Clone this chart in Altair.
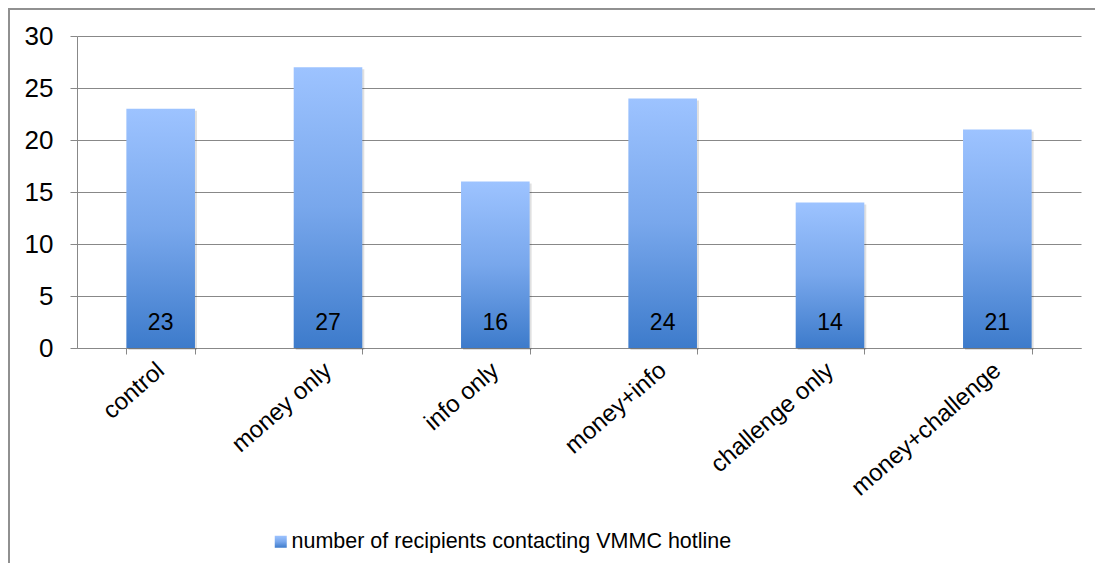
import altair as alt
import pandas as pd

categories = ["control", "money only", "info only", "money+info", "challenge only", "money+challenge"]
values = [23, 27, 16, 24, 14, 21]
series_name = "number of recipients contacting VMMC hotline"
y_ticks = [0, 5, 10, 15, 20, 25, 30]

df = pd.DataFrame({
    "group": categories,
    "count": values,
    "series": [series_name] * len(categories),
})

FONT = "Liberation Sans"
GRID = "#888888"

stops = [
    alt.GradientStop(color="#9dc3ff", offset=0),
    alt.GradientStop(color="#78a7ec", offset=0.5),
    alt.GradientStop(color="#3d7bcb", offset=1),
]
grad = alt.LinearGradient(gradient="linear", stops=stops, x1=0, x2=0, y1=0, y2=1)

x_enc = alt.X(
    "group:N", sort=categories,
    scale=alt.Scale(paddingInner=0.59, paddingOuter=0.295),
    axis=alt.Axis(
        title=None, labelAngle=-41, labelAlign="right", labelBaseline="middle",
        labelFontSize=24, labelFont=FONT, labelColor="black", labelLimit=0,
        tickBand="extent", tickSize=6, tickColor=GRID, domainColor=GRID,
        labelPadding=13, grid=False,
    ),
)
y_enc = alt.Y(
    "count:Q", scale=alt.Scale(domain=[0, 30]),
    axis=alt.Axis(
        title=None, values=y_ticks, tickSize=7, tickColor=GRID, domainColor=GRID,
        grid=True, gridColor=GRID, gridWidth=1, labelPadding=17,
        labelFontSize=26, labelFont=FONT, labelColor="black",
    ),
)

shadow = alt.Chart(df).mark_bar(color="#000000", opacity=0.12, xOffset=2, yOffset=2).encode(
    x=x_enc, y=y_enc
)

bars = alt.Chart(df).mark_bar(color=grad).encode(
    x=x_enc, y=y_enc,
    opacity=alt.Opacity(
        "series:N", scale=alt.Scale(range=[1]),
        legend=alt.Legend(
            title=None, orient="none", legendX=193, legendY=495,
            symbolType="square", symbolSize=144, symbolStrokeWidth=0,
            symbolOpacity=1,
            labelFontSize=21.5, labelFont=FONT, labelColor="black", labelLimit=0,
            labelOffset=0,
        ),
    ),
)

labels = alt.Chart(df).mark_text(
    fontSize=23, font=FONT, color="black", baseline="alphabetic", dy=-18
).encode(x=x_enc, y=alt.datum(0), text="count:Q")

border_left = alt.Chart(df).mark_rule(color="#909090", strokeWidth=1.5).encode(
    x=alt.value(-68.2), y=alt.value(-27.5), y2=alt.value(600)
)
border_top = alt.Chart(df).mark_rule(color="#909090", strokeWidth=1.5).encode(
    x=alt.value(-69), x2=alt.value(1100), y=alt.value(-27.2)
)

chart = alt.layer(shadow, bars, labels, border_left, border_top).properties(
    width=1004, height=312,
    autosize="none",
    padding={"left": 69, "top": 28, "right": 14, "bottom": 215},
).configure_view(stroke=None)

chart.save("out.html", embed_options={"renderer": "svg", "actions": False})
